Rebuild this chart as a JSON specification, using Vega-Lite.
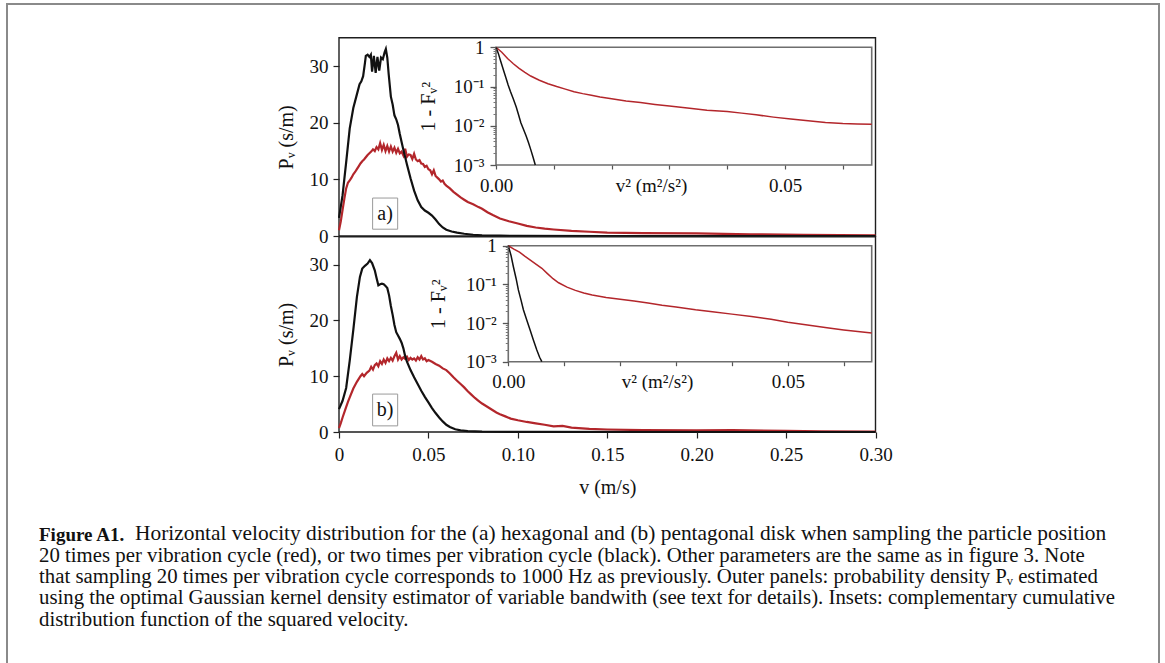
{
  "$schema": "https://vega.github.io/schema/vega-lite/v6.json",
  "autosize": {"type": "pad"},
  "padding": {"left": 6, "top": 3, "right": 5, "bottom": 0},
  "title": {
    "text": "Horizontal velocity distribution for the (a) hexagonal and (b) pentagonal disk when sampling the particle position",
    "orient": "bottom",
    "anchor": "start",
    "frame": "group",
    "offset": -142,
    "dx": 128,
    "baseline": "top",
    "font": "Liberation Serif",
    "fontSize": 21.4,
    "fontWeight": "normal",
    "color": "#111111"
  },
  "datasets": {
    "a_main": [
      {"v":0,"p":1.0,"s":"red"},{"v":0.001,"p":2.6,"s":"red"},{"v":0.002,"p":4.6,"s":"red"},{"v":0.003,"p":6.6,"s":"red"},{"v":0.004,"p":8.4,"s":"red"},{"v":0.005,"p":9.4,"s":"red"},{"v":0.006,"p":9.8,"s":"red"},{"v":0.007,"p":10.3,"s":"red"},{"v":0.008,"p":10.9,"s":"red"},{"v":0.009,"p":11.3,"s":"red"},{"v":0.010,"p":11.8,"s":"red"},{"v":0.011,"p":12.3,"s":"red"},{"v":0.012,"p":12.8,"s":"red"},{"v":0.013,"p":13.2,"s":"red"},{"v":0.014,"p":13.5,"s":"red"},{"v":0.015,"p":13.9,"s":"red"},{"v":0.016,"p":14.3,"s":"red"},{"v":0.017,"p":14.6,"s":"red"},{"v":0.018,"p":14.9,"s":"red"},{"v":0.019,"p":15.3,"s":"red"},{"v":0.020,"p":15.0,"s":"red"},{"v":0.021,"p":15.7,"s":"red"},{"v":0.022,"p":15.3,"s":"red"},{"v":0.023,"p":16.4,"s":"red"},{"v":0.024,"p":15.2,"s":"red"},{"v":0.025,"p":16.1,"s":"red"},{"v":0.026,"p":15.0,"s":"red"},{"v":0.027,"p":15.9,"s":"red"},{"v":0.028,"p":14.9,"s":"red"},{"v":0.029,"p":15.8,"s":"red"},{"v":0.030,"p":14.9,"s":"red"},{"v":0.031,"p":15.6,"s":"red"},{"v":0.032,"p":14.7,"s":"red"},{"v":0.033,"p":15.4,"s":"red"},{"v":0.034,"p":14.6,"s":"red"},{"v":0.035,"p":14.9,"s":"red"},{"v":0.036,"p":14.2,"s":"red"},{"v":0.037,"p":15.4,"s":"red"},{"v":0.038,"p":14.0,"s":"red"},{"v":0.039,"p":14.4,"s":"red"},{"v":0.040,"p":14.3,"s":"red"},{"v":0.041,"p":13.6,"s":"red"},{"v":0.042,"p":14.5,"s":"red"},{"v":0.043,"p":13.5,"s":"red"},{"v":0.044,"p":13.2,"s":"red"},{"v":0.045,"p":13.4,"s":"red"},{"v":0.046,"p":12.8,"s":"red"},{"v":0.047,"p":12.7,"s":"red"},{"v":0.048,"p":12.2,"s":"red"},{"v":0.049,"p":12.4,"s":"red"},{"v":0.050,"p":11.8,"s":"red"},{"v":0.051,"p":11.6,"s":"red"},{"v":0.052,"p":10.9,"s":"red"},{"v":0.053,"p":11.6,"s":"red"},{"v":0.054,"p":10.6,"s":"red"},{"v":0.055,"p":10.3,"s":"red"},{"v":0.056,"p":10.0,"s":"red"},{"v":0.057,"p":9.6,"s":"red"},{"v":0.058,"p":9.8,"s":"red"},{"v":0.059,"p":9.2,"s":"red"},{"v":0.060,"p":8.9,"s":"red"},{"v":0.062,"p":8.4,"s":"red"},{"v":0.064,"p":7.8,"s":"red"},{"v":0.066,"p":7.3,"s":"red"},{"v":0.068,"p":6.8,"s":"red"},{"v":0.070,"p":6.4,"s":"red"},{"v":0.072,"p":6.0,"s":"red"},{"v":0.075,"p":5.6,"s":"red"},{"v":0.078,"p":5.1,"s":"red"},{"v":0.080,"p":4.8,"s":"red"},{"v":0.083,"p":4.2,"s":"red"},{"v":0.086,"p":3.7,"s":"red"},{"v":0.090,"p":3.1,"s":"red"},{"v":0.095,"p":2.6,"s":"red"},{"v":0.100,"p":2.2,"s":"red"},{"v":0.105,"p":1.8,"s":"red"},{"v":0.110,"p":1.5,"s":"red"},{"v":0.115,"p":1.3,"s":"red"},{"v":0.120,"p":1.15,"s":"red"},{"v":0.130,"p":0.9,"s":"red"},{"v":0.140,"p":0.75,"s":"red"},{"v":0.150,"p":0.6,"s":"red"},{"v":0.170,"p":0.5,"s":"red"},{"v":0.200,"p":0.45,"s":"red"},{"v":0.230,"p":0.3,"s":"red"},{"v":0.260,"p":0.2,"s":"red"},{"v":0.300,"p":0.1,"s":"red"},
      {"v":0,"p":3.2,"s":"black"},{"v":0.002,"p":7.2,"s":"black"},{"v":0.004,"p":13.0,"s":"black"},{"v":0.006,"p":19.0,"s":"black"},{"v":0.008,"p":22.6,"s":"black"},{"v":0.010,"p":25.0,"s":"black"},{"v":0.0115,"p":26.8,"s":"black"},{"v":0.0125,"p":27.3,"s":"black"},{"v":0.0135,"p":28.2,"s":"black"},{"v":0.0145,"p":30.5,"s":"black"},{"v":0.015,"p":31.8,"s":"black"},{"v":0.016,"p":32.0,"s":"black"},{"v":0.017,"p":31.6,"s":"black"},{"v":0.0178,"p":32.0,"s":"black"},{"v":0.0185,"p":29.0,"s":"black"},{"v":0.0195,"p":31.8,"s":"black"},{"v":0.0205,"p":28.8,"s":"black"},{"v":0.0215,"p":31.6,"s":"black"},{"v":0.0225,"p":29.2,"s":"black"},{"v":0.0235,"p":31.5,"s":"black"},{"v":0.0245,"p":31.2,"s":"black"},{"v":0.0255,"p":32.4,"s":"black"},{"v":0.0262,"p":33.0,"s":"black"},{"v":0.027,"p":31.5,"s":"black"},{"v":0.0278,"p":28.5,"s":"black"},{"v":0.029,"p":24.6,"s":"black"},{"v":0.030,"p":23.2,"s":"black"},{"v":0.031,"p":21.3,"s":"black"},{"v":0.032,"p":20.6,"s":"black"},{"v":0.033,"p":19.6,"s":"black"},{"v":0.034,"p":18.0,"s":"black"},{"v":0.035,"p":16.6,"s":"black"},{"v":0.036,"p":15.2,"s":"black"},{"v":0.038,"p":12.6,"s":"black"},{"v":0.040,"p":10.2,"s":"black"},{"v":0.042,"p":8.0,"s":"black"},{"v":0.044,"p":6.3,"s":"black"},{"v":0.046,"p":5.1,"s":"black"},{"v":0.048,"p":4.5,"s":"black"},{"v":0.050,"p":4.1,"s":"black"},{"v":0.052,"p":3.6,"s":"black"},{"v":0.054,"p":2.9,"s":"black"},{"v":0.056,"p":2.1,"s":"black"},{"v":0.058,"p":1.5,"s":"black"},{"v":0.060,"p":1.1,"s":"black"},{"v":0.063,"p":0.8,"s":"black"},{"v":0.066,"p":0.6,"s":"black"},{"v":0.070,"p":0.4,"s":"black"},{"v":0.075,"p":0.22,"s":"black"},{"v":0.080,"p":0.12,"s":"black"},{"v":0.090,"p":0.05,"s":"black"},{"v":0.100,"p":0.02,"s":"black"},{"v":0.150,"p":0.0,"s":"black"},{"v":0.300,"p":0.0,"s":"black"}
    ],
    "b_main": [
      {"v":0,"p":0.7,"s":"red"},{"v":0.001,"p":1.6,"s":"red"},{"v":0.002,"p":2.6,"s":"red"},{"v":0.0035,"p":4.0,"s":"red"},{"v":0.005,"p":5.4,"s":"red"},{"v":0.006,"p":6.2,"s":"red"},{"v":0.008,"p":7.8,"s":"red"},{"v":0.010,"p":9.0,"s":"red"},{"v":0.012,"p":10.0,"s":"red"},{"v":0.013,"p":10.4,"s":"red"},{"v":0.014,"p":10.0,"s":"red"},{"v":0.0155,"p":10.6,"s":"red"},{"v":0.017,"p":11.0,"s":"red"},{"v":0.018,"p":11.7,"s":"red"},{"v":0.019,"p":11.2,"s":"red"},{"v":0.020,"p":12.0,"s":"red"},{"v":0.021,"p":12.3,"s":"red"},{"v":0.022,"p":11.8,"s":"red"},{"v":0.023,"p":12.7,"s":"red"},{"v":0.024,"p":12.2,"s":"red"},{"v":0.025,"p":13.0,"s":"red"},{"v":0.026,"p":12.4,"s":"red"},{"v":0.027,"p":13.2,"s":"red"},{"v":0.028,"p":12.7,"s":"red"},{"v":0.029,"p":13.3,"s":"red"},{"v":0.030,"p":12.8,"s":"red"},{"v":0.031,"p":13.6,"s":"red"},{"v":0.032,"p":14.2,"s":"red"},{"v":0.033,"p":13.0,"s":"red"},{"v":0.034,"p":13.6,"s":"red"},{"v":0.035,"p":13.0,"s":"red"},{"v":0.036,"p":13.4,"s":"red"},{"v":0.037,"p":13.1,"s":"red"},{"v":0.038,"p":13.5,"s":"red"},{"v":0.039,"p":12.9,"s":"red"},{"v":0.040,"p":13.3,"s":"red"},{"v":0.041,"p":13.0,"s":"red"},{"v":0.042,"p":13.2,"s":"red"},{"v":0.043,"p":12.8,"s":"red"},{"v":0.044,"p":13.4,"s":"red"},{"v":0.045,"p":13.0,"s":"red"},{"v":0.046,"p":13.6,"s":"red"},{"v":0.047,"p":13.0,"s":"red"},{"v":0.048,"p":13.2,"s":"red"},{"v":0.049,"p":12.7,"s":"red"},{"v":0.050,"p":12.9,"s":"red"},{"v":0.052,"p":12.6,"s":"red"},{"v":0.054,"p":12.2,"s":"red"},{"v":0.056,"p":11.9,"s":"red"},{"v":0.058,"p":11.4,"s":"red"},{"v":0.060,"p":11.1,"s":"red"},{"v":0.062,"p":10.5,"s":"red"},{"v":0.064,"p":9.8,"s":"red"},{"v":0.066,"p":9.2,"s":"red"},{"v":0.068,"p":8.6,"s":"red"},{"v":0.070,"p":8.0,"s":"red"},{"v":0.072,"p":7.3,"s":"red"},{"v":0.074,"p":6.7,"s":"red"},{"v":0.076,"p":6.1,"s":"red"},{"v":0.078,"p":5.6,"s":"red"},{"v":0.080,"p":5.1,"s":"red"},{"v":0.082,"p":4.7,"s":"red"},{"v":0.084,"p":4.3,"s":"red"},{"v":0.086,"p":3.9,"s":"red"},{"v":0.088,"p":3.5,"s":"red"},{"v":0.090,"p":3.2,"s":"red"},{"v":0.093,"p":2.8,"s":"red"},{"v":0.096,"p":2.4,"s":"red"},{"v":0.100,"p":2.1,"s":"red"},{"v":0.105,"p":1.8,"s":"red"},{"v":0.110,"p":1.55,"s":"red"},{"v":0.115,"p":1.3,"s":"red"},{"v":0.120,"p":1.0,"s":"red"},{"v":0.125,"p":1.1,"s":"red"},{"v":0.130,"p":0.8,"s":"red"},{"v":0.140,"p":0.55,"s":"red"},{"v":0.150,"p":0.45,"s":"red"},{"v":0.170,"p":0.35,"s":"red"},{"v":0.200,"p":0.3,"s":"red"},{"v":0.220,"p":0.35,"s":"red"},{"v":0.250,"p":0.2,"s":"red"},{"v":0.270,"p":0.1,"s":"red"},{"v":0.300,"p":0.05,"s":"red"},
      {"v":0,"p":4.1,"s":"black"},{"v":0.002,"p":5.6,"s":"black"},{"v":0.004,"p":7.9,"s":"black"},{"v":0.006,"p":12.8,"s":"black"},{"v":0.008,"p":18.3,"s":"black"},{"v":0.010,"p":24.2,"s":"black"},{"v":0.0117,"p":27.8,"s":"black"},{"v":0.013,"p":29.3,"s":"black"},{"v":0.0145,"p":29.8,"s":"black"},{"v":0.016,"p":30.2,"s":"black"},{"v":0.0173,"p":30.8,"s":"black"},{"v":0.0185,"p":30.3,"s":"black"},{"v":0.020,"p":29.0,"s":"black"},{"v":0.021,"p":27.6,"s":"black"},{"v":0.022,"p":26.3,"s":"black"},{"v":0.023,"p":26.5,"s":"black"},{"v":0.024,"p":26.6,"s":"black"},{"v":0.025,"p":26.5,"s":"black"},{"v":0.026,"p":26.2,"s":"black"},{"v":0.027,"p":25.8,"s":"black"},{"v":0.028,"p":24.5,"s":"black"},{"v":0.029,"p":22.6,"s":"black"},{"v":0.030,"p":21.0,"s":"black"},{"v":0.031,"p":19.2,"s":"black"},{"v":0.032,"p":17.9,"s":"black"},{"v":0.033,"p":17.3,"s":"black"},{"v":0.034,"p":16.7,"s":"black"},{"v":0.035,"p":16.0,"s":"black"},{"v":0.036,"p":15.0,"s":"black"},{"v":0.037,"p":13.6,"s":"black"},{"v":0.038,"p":12.6,"s":"black"},{"v":0.040,"p":11.1,"s":"black"},{"v":0.042,"p":9.8,"s":"black"},{"v":0.044,"p":8.6,"s":"black"},{"v":0.046,"p":7.4,"s":"black"},{"v":0.048,"p":6.3,"s":"black"},{"v":0.050,"p":5.3,"s":"black"},{"v":0.052,"p":4.3,"s":"black"},{"v":0.054,"p":3.4,"s":"black"},{"v":0.056,"p":2.6,"s":"black"},{"v":0.058,"p":1.9,"s":"black"},{"v":0.060,"p":1.3,"s":"black"},{"v":0.062,"p":0.9,"s":"black"},{"v":0.065,"p":0.5,"s":"black"},{"v":0.068,"p":0.3,"s":"black"},{"v":0.072,"p":0.15,"s":"black"},{"v":0.080,"p":0.05,"s":"black"},{"v":0.100,"p":0.01,"s":"black"},{"v":0.300,"p":0.0,"s":"black"}
    ],
    "a_ccdf": [
      {"v2":0,"c":1,"s":"red"},{"v2":0.001,"c":0.75,"s":"red"},{"v2":0.002,"c":0.52,"s":"red"},{"v2":0.003,"c":0.38,"s":"red"},{"v2":0.004,"c":0.29,"s":"red"},{"v2":0.005,"c":0.23,"s":"red"},{"v2":0.006,"c":0.185,"s":"red"},{"v2":0.0075,"c":0.145,"s":"red"},{"v2":0.009,"c":0.118,"s":"red"},{"v2":0.0105,"c":0.1,"s":"red"},{"v2":0.012,"c":0.086,"s":"red"},{"v2":0.0135,"c":0.074,"s":"red"},{"v2":0.015,"c":0.066,"s":"red"},{"v2":0.0165,"c":0.06,"s":"red"},{"v2":0.018,"c":0.054,"s":"red"},{"v2":0.02,"c":0.049,"s":"red"},{"v2":0.0225,"c":0.043,"s":"red"},{"v2":0.025,"c":0.039,"s":"red"},{"v2":0.0275,"c":0.035,"s":"red"},{"v2":0.03,"c":0.032,"s":"red"},{"v2":0.0335,"c":0.028,"s":"red"},{"v2":0.0365,"c":0.025,"s":"red"},{"v2":0.04,"c":0.023,"s":"red"},{"v2":0.0425,"c":0.021,"s":"red"},{"v2":0.045,"c":0.019,"s":"red"},{"v2":0.048,"c":0.0166,"s":"red"},{"v2":0.051,"c":0.0148,"s":"red"},{"v2":0.054,"c":0.0134,"s":"red"},{"v2":0.057,"c":0.0122,"s":"red"},{"v2":0.06,"c":0.0114,"s":"red"},{"v2":0.0625,"c":0.0111,"s":"red"},{"v2":0.065,"c":0.011,"s":"red"},
      {"v2":0,"c":1,"s":"black"},{"v2":0.0004,"c":0.7,"s":"black"},{"v2":0.0008,"c":0.45,"s":"black"},{"v2":0.0013,"c":0.26,"s":"black"},{"v2":0.0017,"c":0.17,"s":"black"},{"v2":0.0021,"c":0.11,"s":"black"},{"v2":0.0025,"c":0.075,"s":"black"},{"v2":0.003,"c":0.048,"s":"black"},{"v2":0.0035,"c":0.03,"s":"black"},{"v2":0.0039,"c":0.019,"s":"black"},{"v2":0.0043,"c":0.012,"s":"black"},{"v2":0.0047,"c":0.0085,"s":"black"},{"v2":0.0052,"c":0.0056,"s":"black"},{"v2":0.0056,"c":0.0038,"s":"black"},{"v2":0.006,"c":0.0025,"s":"black"},{"v2":0.0064,"c":0.0016,"s":"black"},{"v2":0.0068,"c":0.001,"s":"black"}
    ],
    "b_ccdf": [
      {"v2":0,"c":1,"s":"red"},{"v2":0.001,"c":0.82,"s":"red"},{"v2":0.002,"c":0.68,"s":"red"},{"v2":0.003,"c":0.53,"s":"red"},{"v2":0.004,"c":0.42,"s":"red"},{"v2":0.005,"c":0.33,"s":"red"},{"v2":0.006,"c":0.26,"s":"red"},{"v2":0.007,"c":0.19,"s":"red"},{"v2":0.008,"c":0.14,"s":"red"},{"v2":0.009,"c":0.11,"s":"red"},{"v2":0.0105,"c":0.085,"s":"red"},{"v2":0.012,"c":0.07,"s":"red"},{"v2":0.0135,"c":0.06,"s":"red"},{"v2":0.015,"c":0.053,"s":"red"},{"v2":0.0175,"c":0.046,"s":"red"},{"v2":0.02,"c":0.041,"s":"red"},{"v2":0.0225,"c":0.037,"s":"red"},{"v2":0.025,"c":0.033,"s":"red"},{"v2":0.0275,"c":0.029,"s":"red"},{"v2":0.03,"c":0.026,"s":"red"},{"v2":0.0335,"c":0.022,"s":"red"},{"v2":0.0365,"c":0.0195,"s":"red"},{"v2":0.04,"c":0.017,"s":"red"},{"v2":0.0435,"c":0.0147,"s":"red"},{"v2":0.047,"c":0.0125,"s":"red"},{"v2":0.05,"c":0.0105,"s":"red"},{"v2":0.0535,"c":0.0089,"s":"red"},{"v2":0.057,"c":0.0075,"s":"red"},{"v2":0.06,"c":0.0066,"s":"red"},{"v2":0.0625,"c":0.006,"s":"red"},{"v2":0.065,"c":0.0055,"s":"red"},
      {"v2":0,"c":1,"s":"black"},{"v2":0.0005,"c":0.55,"s":"black"},{"v2":0.0009,"c":0.29,"s":"black"},{"v2":0.0014,"c":0.14,"s":"black"},{"v2":0.0018,"c":0.072,"s":"black"},{"v2":0.0023,"c":0.038,"s":"black"},{"v2":0.0027,"c":0.022,"s":"black"},{"v2":0.0033,"c":0.012,"s":"black"},{"v2":0.0039,"c":0.0066,"s":"black"},{"v2":0.0045,"c":0.0036,"s":"black"},{"v2":0.0051,"c":0.002,"s":"black"},{"v2":0.0056,"c":0.0013,"s":"black"},{"v2":0.006,"c":0.001,"s":"black"}
    ]
  },
  "vconcat": [
    {
      "width": 1152,
      "height": 660,
      "view": {"stroke": "#8a8a8a", "strokeWidth": 2},
      "title": {
        "text": "Figure A1.",
        "subtitle": [
          "20 times per vibration cycle (red), or two times per vibration cycle (black). Other parameters are the same as in figure 3. Note",
          "that sampling 20 times per vibration cycle corresponds to 1000 Hz as previously. Outer panels: probability density P\u1d65 estimated",
          "using the optimal Gaussian kernel density estimator of variable bandwith (see text for details). Insets: complementary cumulative",
          "distribution function of the squared velocity."
        ],
        "orient": "bottom",
        "anchor": "start",
        "frame": "group",
        "offset": -138.1,
        "dx": 32,
        "baseline": "top",
        "font": "Liberation Serif",
        "fontSize": 19,
        "fontWeight": "bold",
        "color": "#111111",
        "subtitleFont": "Liberation Serif",
        "subtitleFontSize": 20.8,
        "subtitleFontWeight": "normal",
        "subtitleColor": "#111111",
        "subtitleLineHeight": 21.4,
        "subtitlePadding": 0.7
      },
      "layer": [
        {
          "layer": [
            {
              "data": {"values": [{}]},
              "mark": {"type": "rect", "fill": "transparent", "stroke": "#1e1e1e", "strokeWidth": 1.4},
              "encoding": {
                "x": {"datum": 0, "type": "quantitative", "scale": {"domain": [0, 0.3], "range": [332, 868.5], "nice": false, "zero": false}, "axis": null},
                "x2": {"datum": 0.3},
                "y": {"datum": 0, "type": "quantitative", "scale": {"domain": [0, 35], "range": [232, 33.7], "nice": false, "zero": false}},
                "y2": {"datum": 35}
              }
            },
            {
              "data": {"values": [{}]},
              "mark": {"type": "rect", "fill": "white", "stroke": "#9a9a9a", "strokeWidth": 1},
              "encoding": {
                "x": {"datum": 0.0188, "type": "quantitative", "axis": null},
                "x2": {"datum": 0.0328},
                "y": {"datum": 1.2, "type": "quantitative"},
                "y2": {"datum": 6.7}
              }
            },
            {
              "data": {"values": [{}]},
              "mark": {"type": "text", "fontSize": 20, "font": "Liberation Serif", "fill": "#111111", "baseline": "middle", "align": "center"},
              "encoding": {
                "x": {"datum": 0.0258, "type": "quantitative", "axis": null},
                "y": {"datum": 3.95, "type": "quantitative"},
                "text": {"value": "a)"}
              }
            },
            {
              "data": {"name": "a_main"},
              "mark": {"type": "line", "strokeWidth": 2.2},
              "encoding": {
                "x": {"field": "v", "type": "quantitative", "axis": null},
                "y": {"field": "p", "type": "quantitative", "axis": {"orient": "left", "offset": -332, "values": [0, 10, 20, 30], "domain": false, "tickSize": 6, "tickColor": "#222222", "tickWidth": 1.2, "labelFontSize": 19, "labelPadding": 5, "labelOverlap": false, "labelFlush": false, "title": "P\u1d65 (s/m)", "titleFontSize": 20, "titleX": -53, "titleBaseline": "middle", "zindex": 1}},
                "color": {"field": "s", "type": "nominal", "scale": {"domain": ["red", "black"], "range": ["#b3262b", "#111111"]}, "legend": null}
              }
            }
          ]
        },
        {
          "layer": [
            {
              "data": {"values": [{}]},
              "mark": {"type": "rect", "fill": "transparent", "stroke": "#1e1e1e", "strokeWidth": 1.4},
              "encoding": {
                "x": {"datum": 0, "type": "quantitative", "scale": {"domain": [0, 0.3], "range": [332, 868.5], "nice": false, "zero": false}},
                "x2": {"datum": 0.3},
                "y": {"datum": 0, "type": "quantitative", "scale": {"domain": [0, 35], "range": [428, 232.8], "nice": false, "zero": false}},
                "y2": {"datum": 35}
              }
            },
            {
              "data": {"values": [{}]},
              "mark": {"type": "rect", "fill": "white", "stroke": "#9a9a9a", "strokeWidth": 1},
              "encoding": {
                "x": {"datum": 0.0188, "type": "quantitative"},
                "x2": {"datum": 0.0328},
                "y": {"datum": 1.1, "type": "quantitative"},
                "y2": {"datum": 6.8}
              }
            },
            {
              "data": {"values": [{}]},
              "mark": {"type": "text", "fontSize": 20, "font": "Liberation Serif", "fill": "#111111", "baseline": "middle", "align": "center"},
              "encoding": {
                "x": {"datum": 0.0258, "type": "quantitative"},
                "y": {"datum": 3.95, "type": "quantitative"},
                "text": {"value": "b)"}
              }
            },
            {
              "data": {"name": "b_main"},
              "mark": {"type": "line", "strokeWidth": 2.2},
              "encoding": {
                "x": {"field": "v", "type": "quantitative", "axis": {"orient": "bottom", "offset": -232, "values": [0, 0.05, 0.1, 0.15, 0.2, 0.25, 0.3], "labelExpr": "datum.value == 0 ? '0' : format(datum.value, '.2f')", "domain": false, "tickSize": 6, "tickColor": "#222222", "tickWidth": 1.2, "labelFontSize": 19, "labelPadding": 7, "labelOverlap": false, "labelFlush": false, "title": "v (m/s)", "titleFontSize": 20, "titlePadding": 13, "zindex": 1}},
                "y": {"field": "p", "type": "quantitative", "axis": {"orient": "left", "offset": -332, "values": [0, 10, 20, 30], "domain": false, "tickSize": 6, "tickColor": "#222222", "tickWidth": 1.2, "labelFontSize": 19, "labelPadding": 5, "labelOverlap": false, "labelFlush": false, "title": "P\u1d65 (s/m)", "titleFontSize": 20, "titleX": -53, "titleBaseline": "middle", "zindex": 1}},
                "color": {"field": "s", "type": "nominal", "scale": {"domain": ["red", "black"], "range": ["#b3262b", "#111111"]}, "legend": null}
              }
            }
          ]
        },
        {
          "layer": [
            {
              "data": {"values": [{}]},
              "mark": {"type": "rect", "fill": "white", "stroke": "#6e6e6e", "strokeWidth": 1.6},
              "encoding": {
                "x": {"datum": 0, "type": "quantitative", "scale": {"domain": [0, 0.065], "range": [489, 864.7], "nice": false, "zero": false}},
                "x2": {"datum": 0.065},
                "y": {"datum": 0.001, "type": "quantitative", "scale": {"type": "log", "domain": [0.001, 1], "range": [161, 43.3], "nice": false}, "axis": {"orient": "left", "offset": -489, "values": [0.002, 0.003, 0.004, 0.005, 0.006, 0.007, 0.008, 0.009, 0.02, 0.03, 0.04, 0.05, 0.06, 0.07, 0.08, 0.09, 0.2, 0.3, 0.4, 0.5, 0.6, 0.7, 0.8, 0.9], "labels": false, "domain": false, "tickSize": 3, "tickColor": "#777777", "tickWidth": 1, "title": null, "zindex": 1}},
                "y2": {"datum": 1}
              }
            },
            {
              "data": {"name": "a_ccdf"},
              "mark": {"type": "line", "strokeWidth": 1.5},
              "encoding": {
                "x": {"field": "v2", "type": "quantitative", "axis": {"orient": "bottom", "offset": -499, "values": [0, 0.01, 0.02, 0.03, 0.04, 0.05, 0.06], "labelExpr": "datum.value == 0 ? '0.00' : (datum.value > 0.0499 && datum.value < 0.0501) ? '0.05' : ''", "domain": false, "tickSize": 4, "tickColor": "#555555", "tickWidth": 1.2, "labelFontSize": 19, "labelPadding": 7, "labelOverlap": false, "labelFlush": false, "title": "v\u00b2 (m\u00b2/s\u00b2)", "titleFontSize": 19, "titleX": 644, "titleY": 11, "titleBaseline": "top", "zindex": 1}},
                "y": {"field": "c", "type": "quantitative", "axis": {"orient": "left", "offset": -489, "values": [0.001, 0.01, 0.1, 1], "labelExpr": "datum.value > 0.5 ? '1' : datum.value > 0.05 ? '10\u207b\u00b9' : datum.value > 0.005 ? '10\u207b\u00b2' : '10\u207b\u00b3'", "domain": false, "tickSize": 6, "tickColor": "#555555", "tickWidth": 1.3, "labelFontSize": 19, "labelPadding": 6, "labelOverlap": false, "labelFlush": false, "title": "1 - F\u1d65\u00b2", "titleFontSize": 20, "titleX": -68, "titleBaseline": "middle", "zindex": 1}},
                "color": {"field": "s", "type": "nominal", "scale": {"domain": ["red", "black"], "range": ["#b3262b", "#111111"]}, "legend": null}
              }
            }
          ],
          "resolve": {"axis": {"y": "independent"}}
        },
        {
          "layer": [
            {
              "data": {"values": [{}]},
              "mark": {"type": "rect", "fill": "white", "stroke": "#6e6e6e", "strokeWidth": 1.6},
              "encoding": {
                "x": {"datum": 0, "type": "quantitative", "scale": {"domain": [0, 0.065], "range": [501.3, 864.7], "nice": false, "zero": false}},
                "x2": {"datum": 0.065},
                "y": {"datum": 0.001, "type": "quantitative", "scale": {"type": "log", "domain": [0.001, 1], "range": [357.7, 241.7], "nice": false}, "axis": {"orient": "left", "offset": -501.3, "values": [0.002, 0.003, 0.004, 0.005, 0.006, 0.007, 0.008, 0.009, 0.02, 0.03, 0.04, 0.05, 0.06, 0.07, 0.08, 0.09, 0.2, 0.3, 0.4, 0.5, 0.6, 0.7, 0.8, 0.9], "labels": false, "domain": false, "tickSize": 3, "tickColor": "#777777", "tickWidth": 1, "title": null, "zindex": 1}},
                "y2": {"datum": 1}
              }
            },
            {
              "data": {"name": "b_ccdf"},
              "mark": {"type": "line", "strokeWidth": 1.5},
              "encoding": {
                "x": {"field": "v2", "type": "quantitative", "axis": {"orient": "bottom", "offset": -302.3, "values": [0, 0.01, 0.02, 0.03, 0.04, 0.05, 0.06], "labelExpr": "datum.value == 0 ? '0.00' : (datum.value > 0.0499 && datum.value < 0.0501) ? '0.05' : ''", "domain": false, "tickSize": 4, "tickColor": "#555555", "tickWidth": 1.2, "labelFontSize": 19, "labelPadding": 7, "labelOverlap": false, "labelFlush": false, "title": "v\u00b2 (m\u00b2/s\u00b2)", "titleFontSize": 19, "titleX": 650, "titleY": 11, "titleBaseline": "top", "zindex": 1}},
                "y": {"field": "c", "type": "quantitative", "axis": {"orient": "left", "offset": -501.3, "values": [0.001, 0.01, 0.1, 1], "labelExpr": "datum.value > 0.5 ? '1' : datum.value > 0.05 ? '10\u207b\u00b9' : datum.value > 0.005 ? '10\u207b\u00b2' : '10\u207b\u00b3'", "domain": false, "tickSize": 6, "tickColor": "#555555", "tickWidth": 1.3, "labelFontSize": 19, "labelPadding": 6, "labelOverlap": false, "labelFlush": false, "title": "1 - F\u1d65\u00b2", "titleFontSize": 20, "titleX": -70, "titleBaseline": "middle", "zindex": 1}},
                "color": {"field": "s", "type": "nominal", "scale": {"domain": ["red", "black"], "range": ["#b3262b", "#111111"]}, "legend": null}
              }
            }
          ],
          "resolve": {"axis": {"y": "independent"}}
        }
      ],
      "resolve": {"scale": {"x": "independent", "y": "independent", "color": "independent"}}
    }
  ],
  "config": {
    "font": "Liberation Serif",
    "axis": {"grid": false, "labelColor": "#111111", "titleColor": "#111111", "titleFontWeight": "normal", "labelFont": "Liberation Serif", "titleFont": "Liberation Serif"}
  }
}
